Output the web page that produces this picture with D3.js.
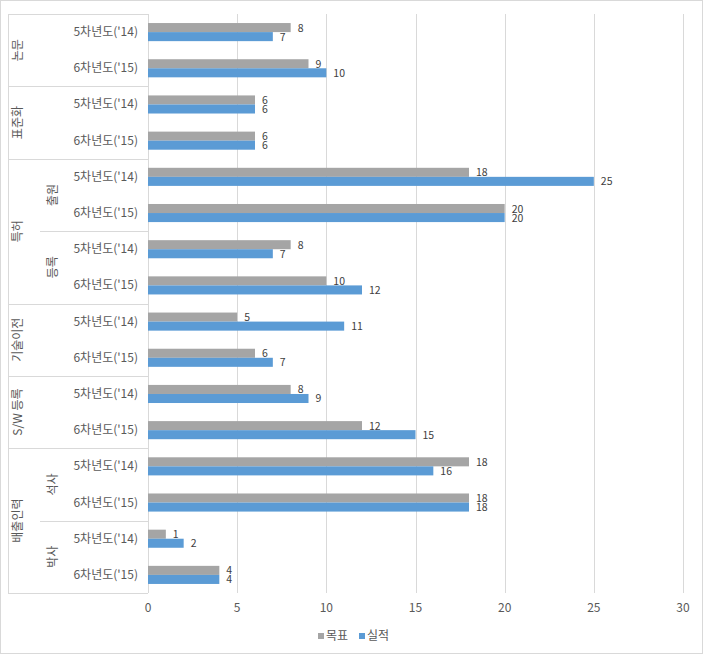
<!DOCTYPE html>
<html>
<head>
<meta charset="utf-8">
<script src="https://cdn.jsdelivr.net/npm/d3@7"></script>
<style>
  body { margin: 0; background: #fff; }
  svg { display: block; font-family: "Noto Sans CJK KR", "Noto Sans", sans-serif; }
</style>
</head>
<body>
<svg id="chart" width="704" height="655"></svg>
<script>
// data
const outerGroups = ["논문", "논문", "표준화", "표준화", "특허", "특허", "특허", "특허",
  "기술이전", "기술이전", "S/W 등록", "S/W 등록", "배출인력", "배출인력", "배출인력", "배출인력"];
const innerGroups = ["", "", "", "", "출원", "출원", "등록", "등록",
  "", "", "", "", "석사", "석사", "박사", "박사"];
const periods = ["5차년도('14)", "6차년도('15)"];
const target = [8, 9, 6, 6, 18, 20, 8, 10, 5, 6, 8, 12, 18, 18, 1, 4];
const actual = [7, 10, 6, 6, 25, 20, 7, 12, 11, 7, 9, 15, 16, 18, 2, 4];
const seriesNames = ["목표", "실적"];
const xTicks = [0, 5, 10, 15, 20, 25, 30];

const COLORS = { target: "#a5a5a5", actual: "#5b9bd5", grid: "#d9d9d9", text: "#595959", label: "#404040" };

const svg = d3.select("#chart");
const rows = d3.range(target.length);

const x = d3.scaleLinear().domain([0, 30]).range([148, 683]);
const y = d3.scaleBand().domain(rows).range([14, 593]);
const ySub = d3.scaleBand().domain([0, 1]).range([0, y.bandwidth()]).paddingOuter(1.0).paddingInner(0);

// outer frame
svg.append("rect")
  .attr("x", 0.5).attr("y", 0.5).attr("width", 702).attr("height", 653)
  .attr("fill", "none").attr("stroke", COLORS.grid);

// gridlines
svg.append("g")
  .selectAll("line")
  .data(xTicks.slice(1))
  .enter()
  .append("line")
  .attr("x1", d => Math.round(x(d)) + 0.5)
  .attr("x2", d => Math.round(x(d)) + 0.5)
  .attr("y1", 14)
  .attr("y2", 593)
  .attr("stroke", COLORS.grid);

// x tick labels
svg.append("g")
  .selectAll("text")
  .data(xTicks)
  .enter()
  .append("text")
  .attr("x", d => x(d))
  .attr("y", 612)
  .attr("text-anchor", "middle")
  .attr("font-size", 12)
  .attr("fill", COLORS.text)
  .text(d => d);

// category axis: vertical line + separators
const axisG = svg.append("g").attr("stroke", COLORS.grid);
axisG.append("line")
  .attr("x1", 148.5).attr("x2", 148.5).attr("y1", 14).attr("y2", 593);
axisG.append("line")
  .attr("x1", 8.5).attr("x2", 8.5).attr("y1", 14).attr("y2", 593);

// group spans from the arrays
function spans(keys) {
  const out = [];
  keys.forEach((k, i) => {
    const last = out[out.length - 1];
    if (last && last.key === k) last.end = i;
    else out.push({ key: k, start: i, end: i });
  });
  return out;
}
const outerSpans = spans(outerGroups);
const innerSpans = spans(innerGroups.map((d, i) => outerGroups[i] + "|" + d))
  .map(s => ({ ...s, label: innerGroups[s.start] }))
  .filter(s => s.label !== "");

// outer separators
const outerBounds = [outerSpans[0].start].concat(outerSpans.map(s => s.end + 1));
axisG.selectAll(".outer-sep")
  .data(outerBounds)
  .enter()
  .append("line")
  .attr("x1", 8).attr("x2", 148)
  .attr("y1", d => Math.round(d < rows.length ? y(d) : y.range()[1]) + 0.5)
  .attr("y2", d => Math.round(d < rows.length ? y(d) : y.range()[1]) + 0.5);

// inner separators (between inner groups of the same outer group)
const innerBounds = innerSpans
  .filter(s => s.end + 1 < rows.length && outerGroups[s.end + 1] === outerGroups[s.end])
  .map(s => s.end + 1);
axisG.selectAll(".inner-sep")
  .data(innerBounds)
  .enter()
  .append("line")
  .attr("x1", 40).attr("x2", 148)
  .attr("y1", d => Math.round(y(d)) + 0.5)
  .attr("y2", d => Math.round(y(d)) + 0.5);

// outer labels (rotated)
svg.append("g")
  .selectAll("text")
  .data(outerSpans)
  .enter()
  .append("text")
  .attr("transform", d => {
    const cy = (y(d.start) + y(d.end) + y.bandwidth()) / 2;
    return `translate(22,${cy}) rotate(-90)`;
  })
  .attr("text-anchor", "middle")
  .attr("font-size", 12)
  .attr("fill", COLORS.text)
  .text(d => d.key);

// inner labels (rotated)
svg.append("g")
  .selectAll("text")
  .data(innerSpans)
  .enter()
  .append("text")
  .attr("transform", d => {
    const cy = (y(d.start) + y(d.end) + y.bandwidth()) / 2;
    return `translate(57,${cy}) rotate(-90)`;
  })
  .attr("text-anchor", "middle")
  .attr("font-size", 12)
  .attr("fill", COLORS.text)
  .text(d => d.label);

// period labels
svg.append("g")
  .selectAll("text")
  .data(rows)
  .enter()
  .append("text")
  .attr("x", 138)
  .attr("y", d => y(d) + y.bandwidth() / 2 + 4)
  .attr("text-anchor", "end")
  .attr("font-size", 12)
  .attr("fill", COLORS.text)
  .text(d => periods[d % 2]);

// bars
const series = [
  { values: target, color: COLORS.target },
  { values: actual, color: COLORS.actual }
];
series.forEach((s, si) => {
  const g = svg.append("g");
  g.selectAll("rect")
    .data(rows)
    .enter()
    .append("rect")
    .attr("x", x(0))
    .attr("y", d => y(d) + ySub(si))
    .attr("width", d => x(s.values[d]) - x(0))
    .attr("height", ySub.bandwidth())
    .attr("fill", s.color);

  g.selectAll("text")
    .data(rows)
    .enter()
    .append("text")
    .attr("x", d => x(s.values[d]) + 7)
    .attr("y", d => y(d) + ySub(si) + ySub.bandwidth() / 2 + 4)
    .attr("font-size", 10.5)
    .attr("fill", COLORS.label)
    .text(d => s.values[d]);
});

// legend
const legend = svg.append("g").attr("transform", "translate(318,636)");
const legendX = [0, 41];
seriesNames.forEach((name, i) => {
  legend.append("rect")
    .attr("x", legendX[i])
    .attr("y", -3)
    .attr("width", 6)
    .attr("height", 6)
    .attr("fill", series[i].color);
  legend.append("text")
    .attr("x", legendX[i] + 8)
    .attr("y", 4)
    .attr("font-size", 12)
    .attr("fill", COLORS.text)
    .text(name);
});
</script>
</body>
</html>
